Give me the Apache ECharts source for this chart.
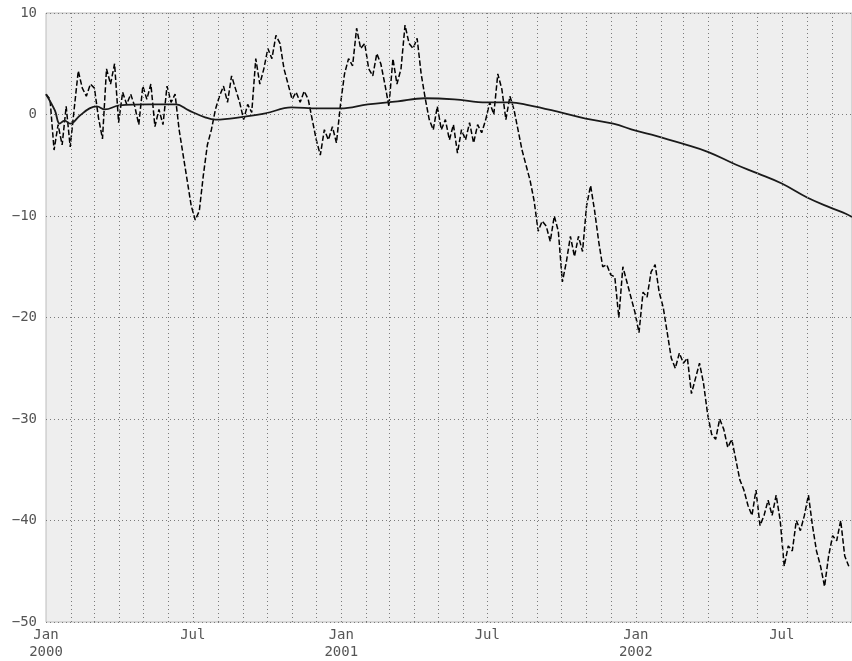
<!DOCTYPE html>
<html>
<head>
<meta charset="utf-8">
<script src="https://cdn.jsdelivr.net/npm/echarts@6/dist/echarts.min.js"></script>
<style>
html,body{margin:0;padding:0;background:#fff;}
#chart{width:852px;height:661px;}
</style>
</head>
<body>
<div id="chart"></div>
<script>
// ---- data ----
const walkStart = '2000-01-01';
const walkStepDays = 5;
const walkValues = [
  2.0, 1.5, -3.5, -1.0, -3.0, 0.8, -3.2, 0.6, 4.3, 2.6,
  1.8, 3.0, 2.6, -0.3, -2.4, 4.5, 3.0, 5.0, -0.8, 2.2,
  1.0, 2.0, 0.8, -1.0, 2.8, 1.5, 3.0, -1.2, 0.5, -1.0,
  2.8, 1.2, 2.0, -1.5, -4.0, -6.5, -9.0, -10.4, -9.5, -6.0,
  -3.0, -1.5, 0.5, 1.8, 2.8, 1.2, 3.8, 2.5, 1.2, -0.5,
  1.0, 0.2, 5.5, 3.0, 4.5, 6.5, 5.5, 7.8, 7.0, 4.5,
  3.0, 1.5, 2.2, 1.2, 2.3, 1.5, -0.5, -2.5, -4.0, -1.5,
  -2.5, -1.2, -2.8, 1.0, 4.0, 5.5, 4.8, 8.5, 6.5, 7.0,
  4.5, 3.8, 6.0, 5.0, 3.0, 0.8, 5.5, 3.0, 4.5, 8.8,
  7.0, 6.5, 7.5, 4.0, 1.6, -0.5, -1.5, 0.8, -1.5, -0.5,
  -2.5, -1.0, -3.8, -1.5, -2.5, -0.8, -2.8, -1.0, -1.8, -0.5,
  1.2, 0.0, 4.0, 2.5, -0.5, 1.8, 0.5, -1.5, -3.5, -5.0,
  -6.5, -8.5, -11.5, -10.5, -11.0, -12.5, -10.0, -11.5, -16.5, -14.5,
  -12.0, -14.0, -12.0, -13.5, -9.0, -7.0, -9.5, -12.5, -15.0, -14.8,
  -15.8, -16.0, -20.0, -15.0, -16.5, -18.0, -19.5, -21.5, -17.5, -18.0,
  -15.5, -14.8, -17.5, -19.0, -21.5, -24.0, -25.0, -23.5, -24.5, -24.0,
  -27.5, -26.0, -24.5, -26.5, -29.5, -31.5, -32.0, -30.0, -31.0, -32.8,
  -32.0, -34.0, -36.0, -37.0, -38.5, -39.5, -37.0, -40.5, -39.5, -38.0,
  -39.5, -37.5, -40.0, -44.5, -42.5, -43.0, -40.0, -41.0, -39.5, -37.5,
  -40.5, -43.0, -44.5, -46.5, -43.5, -41.5, -42.0, -40.0, -43.5, -44.5
];
const meanDays = [
  0, 11, 17, 23, 30, 42, 54, 63, 73, 91,
  128, 161, 177, 198, 210, 247, 272, 304, 337, 365,
  399, 436, 469, 506, 546, 575, 599, 633, 669, 703,
  731, 756, 790, 821, 854, 882, 912, 944, 973, 992, 999
];
const meanValues = [
  2.0, 0.4, -0.9, -0.6, -0.9, -0.1, 0.6, 0.8, 0.5, 0.9,
  1.0, 1.0, 0.4, -0.3, -0.5, -0.2, 0.1, 0.7, 0.6, 0.6,
  1.0, 1.3, 1.6, 1.5, 1.2, 1.2, 0.9, 0.3, -0.4, -0.9,
  -1.6, -2.1, -2.9, -3.7, -4.9, -5.8, -6.8, -8.2, -9.2, -9.8, -10.1
];
const xMin = '2000-01-01';
const xMax = '2002-09-26';
const xLabelDates = ['2000-01-01', '2000-07-01', '2001-01-01', '2001-07-01', '2002-01-01', '2002-07-01'];
const xLabelTexts = ['Jan\n2000', 'Jul', 'Jan\n2001', 'Jul', 'Jan\n2002', 'Jul'];
const yTicks = [-50, -40, -30, -20, -10, 0, 10];

// ---- helpers ----
function parseDay(s) { const p = s.split('-').map(Number); return new Date(p[0], p[1] - 1, p[2]); }
function addDays(s, n) { const d = parseDay(s); d.setDate(d.getDate() + n); return d.getTime(); }

const walkData = walkValues.map((v, i) => [addDays(walkStart, i * walkStepDays), v]);
const meanData = meanValues.map((v, i) => [addDays(walkStart, meanDays[i]), v]);

const labelTimes = xLabelDates.map(s => parseDay(s).getTime());
const labelMap = {};
labelTimes.forEach((t, i) => { labelMap[t] = xLabelTexts[i]; });

// month-start positions for vertical grid lines
const monthTicks = [];
{
  const start = parseDay(xMin), end = parseDay(xMax);
  const d = new Date(start.getFullYear(), start.getMonth() + 1, 1);
  while (d.getTime() <= end.getTime()) { monthTicks.push(d.getTime()); d.setMonth(d.getMonth() + 1); }
}

const gridColor = '#7a7a7a';
const font = 'DejaVu Sans Mono';
const chart = echarts.init(document.getElementById('chart'), null, { renderer: 'canvas' });
chart.setOption({
  animation: false,
  backgroundColor: '#ffffff',
  grid: {
    left: 46, right: -6, top: 13, bottom: 39,
    show: true, backgroundColor: '#eeeeee', borderColor: '#bcbcbc', borderWidth: 1,
    containLabel: false
  },
  xAxis: {
    type: 'value',
    min: parseDay(xMin).getTime(),
    max: parseDay(xMax).getTime(),
    axisLine: { show: false },
    axisTick: { show: false },
    splitLine: { show: false },
    axisLabel: {
      customValues: labelTimes,
      formatter: v => labelMap[v] !== undefined ? labelMap[v] : '',
      fontFamily: font, fontSize: 14, color: '#555555', lineHeight: 17, margin: 5,
      hideOverlap: false
    }
  },
  yAxis: {
    type: 'value', min: -50, max: 10, interval: 10,
    axisLine: { show: false },
    axisTick: { show: false },
    splitLine: { show: true, lineStyle: { color: gridColor, type: [1, 3], width: 1 } },
    axisLabel: {
      customValues: yTicks,
      formatter: v => String(v).replace('-', '\u2212'),
      fontFamily: font, fontSize: 14, color: '#555555', margin: 9
    }
  },
  series: [
    {
      name: 'monthgrid', type: 'line', data: [], silent: true, z: 1,
      markLine: {
        silent: true, symbol: ['none', 'none'], label: { show: false },
        lineStyle: { color: gridColor, type: [1, 3], width: 1 },
        emphasis: { disabled: true },
        data: monthTicks.map(t => ({ xAxis: t }))
      }
    },
    {
      name: 'walk', type: 'line', data: walkData, showSymbol: false, symbol: 'none',
      lineStyle: { color: '#000000', width: 1.5, type: [5.5, 2.4] },
      z: 3
    },
    {
      name: 'mean', type: 'line', data: meanData, showSymbol: false, symbol: 'none', smooth: 0.4,
      lineStyle: { color: '#1a1a1a', width: 1.8, type: 'solid' },
      z: 4
    }
  ]
});
</script>
</body>
</html>
